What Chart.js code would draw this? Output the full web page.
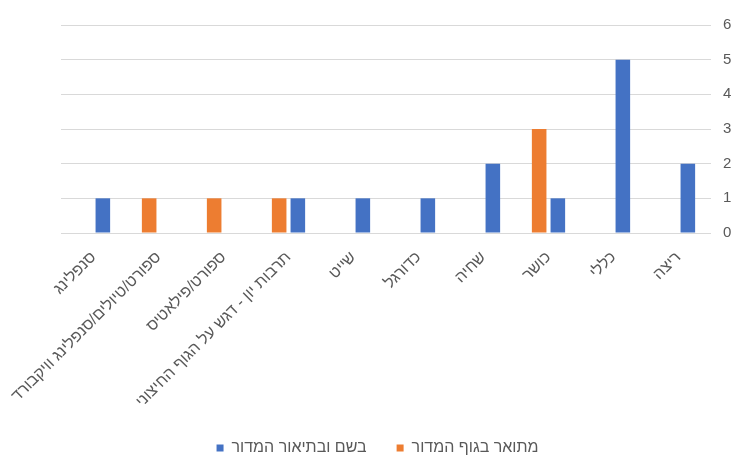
<!DOCTYPE html>
<html lang="he">

<head>
    <meta charset="UTF-8">
    <title>מדורים</title>
    <script src="https://cdn.jsdelivr.net/npm/chart.js"></script>
    <style>
        html, body { margin: 0; padding: 0; background: #fff; }
        #wrap { width: 736px; height: 455px; }
    </style>
</head>

<body>
    <div id="wrap"><canvas id="sections"></canvas></div>

    <script>
        // categories, right to left as in the picture
        const categories = ['ריצה', 'כללי', 'כושר', 'שחיה', 'כדורגל', 'שייט',
            'תרבות יון - דגש על הגוף החיצוני', 'ספורט/פילאטיס',
            'ספורט/טיולים/סנפלינג וויקבורד', 'סנפלינג'];
        const inNameAndDesc = [2, 5, 1, 2, 1, 1, 1, 0, 0, 1];
        const inBody = [0, 0, 3, 0, 0, 0, 1, 1, 1, 0];
        const yTicks = [0, 1, 2, 3, 4, 5, 6];

        const textColor = '#595959';
        const font = "'Liberation Sans', 'DejaVu Sans', sans-serif";

        // legend sits under the whole canvas, not only under the plot
        const legendSpread = {
            id: 'legendSpread',
            afterLayout(chart) {
                const lg = chart.legend;
                const h = lg.bottom - lg.top;
                lg.left = 19;
                lg.right = chart.width;
                lg.top = 410;
                lg.bottom = lg.top + h;
            }
        };

        const ctx = document.getElementById('sections').getContext('2d');
        new Chart(ctx, {
            type: 'bar',
            data: {
                labels: categories,
                datasets: [
                    { label: 'מתואר בגוף המדור', data: inBody, backgroundColor: '#ED7D31' },
                    { label: 'בשם ובתיאור המדור', data: inNameAndDesc, backgroundColor: '#4472C4' }
                ]
            },
            plugins: [legendSpread],
            options: {
                responsive: true,
                maintainAspectRatio: false,
                animation: false,
                categoryPercentage: 0.575,
                barPercentage: 0.78,
                // negative bottom lets the rotated labels run down beside the legend
                layout: { padding: { top: 25, left: 61, right: 0, bottom: -24 } },
                scales: {
                    x: {
                        reverse: true,
                        grid: { display: false },
                        border: { display: false },
                        afterFit: axis => { axis.height = 190; },
                        ticks: {
                            color: textColor,
                            font: { family: font, size: 16 },
                            minRotation: 45,
                            maxRotation: 45,
                            autoSkip: false,
                            padding: 7,
                            labelOffset: 0
                        }
                    },
                    y: {
                        position: 'right',
                        min: 0,
                        max: yTicks[yTicks.length - 1],
                        grid: { color: '#D9D9D9', drawTicks: false },
                        border: { display: false },
                        afterBuildTicks: axis => { axis.ticks = yTicks.map(v => ({ value: v })); },
                        afterFit: axis => { axis.width = 25; },
                        ticks: {
                            color: textColor,
                            padding: 12,
                            font: { family: font, size: 15 }
                        }
                    }
                },
                plugins: {
                    legend: {
                        position: 'bottom',
                        reverse: true,
                        labels: {
                            color: textColor,
                            boxWidth: 7,
                            boxHeight: 7,
                            padding: 30,
                            font: { family: font, size: 16 }
                        }
                    },
                    tooltip: { enabled: false }
                }
            }
        });
    </script>
</body>

</html>
